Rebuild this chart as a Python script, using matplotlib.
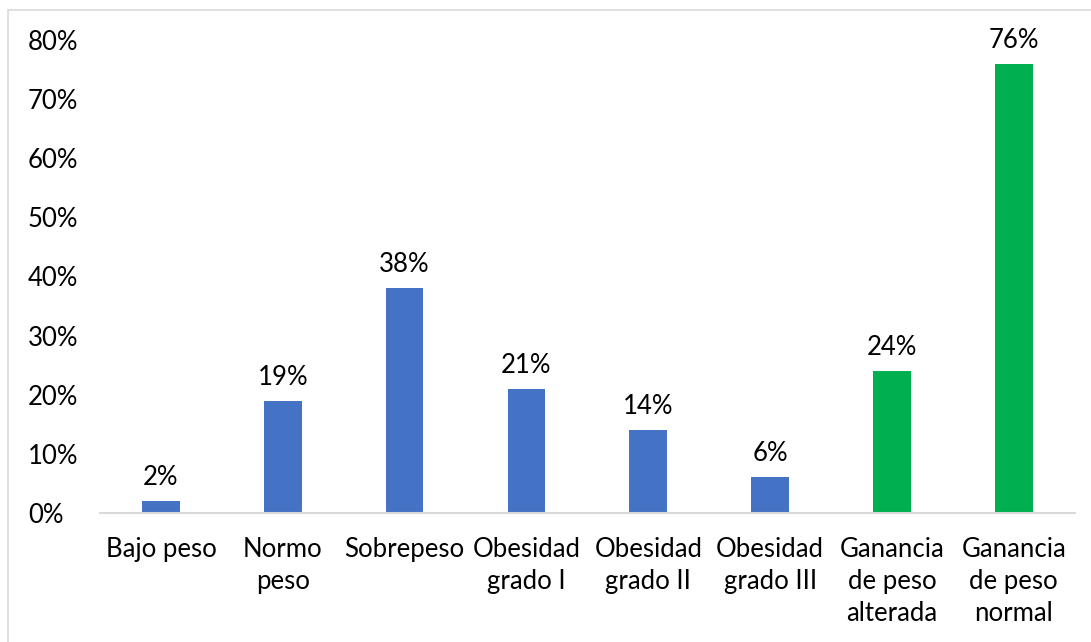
import matplotlib.pyplot as plt
from matplotlib.patches import Rectangle
from matplotlib.ticker import PercentFormatter

plt.rcParams['font.family'] = ['Lato', 'DejaVu Sans']

categorias = ["Bajo peso", "Normo\npeso", "Sobrepeso", "Obesidad\ngrado I",
              "Obesidad\ngrado II", "Obesidad\ngrado III",
              "Ganancia\nde peso\nalterada", "Ganancia\nde peso\nnormal"]
valores = [2, 19, 38, 21, 14, 6, 24, 76]
colores = ["#4472C4"] * 6 + ["#00B050"] * 2

fig = plt.figure(figsize=(10.91, 6.42), dpi=100)
ax = fig.add_axes([0.0917, 0.201, 0.8933, 0.7367])

x = range(len(categorias))
barras = ax.bar(x, [v / 100 for v in valores], width=0.31, color=colores)
for b, v in zip(barras, valores):
    ax.annotate(f"{v}%", (b.get_x() + b.get_width() / 2, b.get_height()),
                xytext=(0, 8), textcoords="offset points",
                ha="center", va="bottom", fontsize=18.5, color="#000000")

ax.set_xlim(-0.5, len(categorias) - 0.5)
ax.set_ylim(0, 0.8)
ax.set_yticks([i / 10 for i in range(9)])
ax.yaxis.set_major_formatter(PercentFormatter(1.0, decimals=0))
ax.set_xticks(list(x))
ax.set_xticklabels(categorias, linespacing=1.36)
ax.tick_params(axis="both", length=0, labelsize=18.5, labelcolor="#000000")
ax.tick_params(axis="x", pad=17)
ax.tick_params(axis="y", pad=52)
for lado in ["top", "right", "left"]:
    ax.spines[lado].set_visible(False)
ax.spines["bottom"].set_color("#D9D9D9")
ax.spines["bottom"].set_linewidth(1.5)
for lbl in ax.get_yticklabels():
    lbl.set_horizontalalignment("left")

# marco gris del gráfico
fig.patches.append(Rectangle((8 / 1091, -0.05), 1.1, 0.05 + 632 / 642,
                             transform=fig.transFigure, fill=False,
                             edgecolor="#D9D9D9", linewidth=1.2))

fig.savefig("out.png", dpi=100)
